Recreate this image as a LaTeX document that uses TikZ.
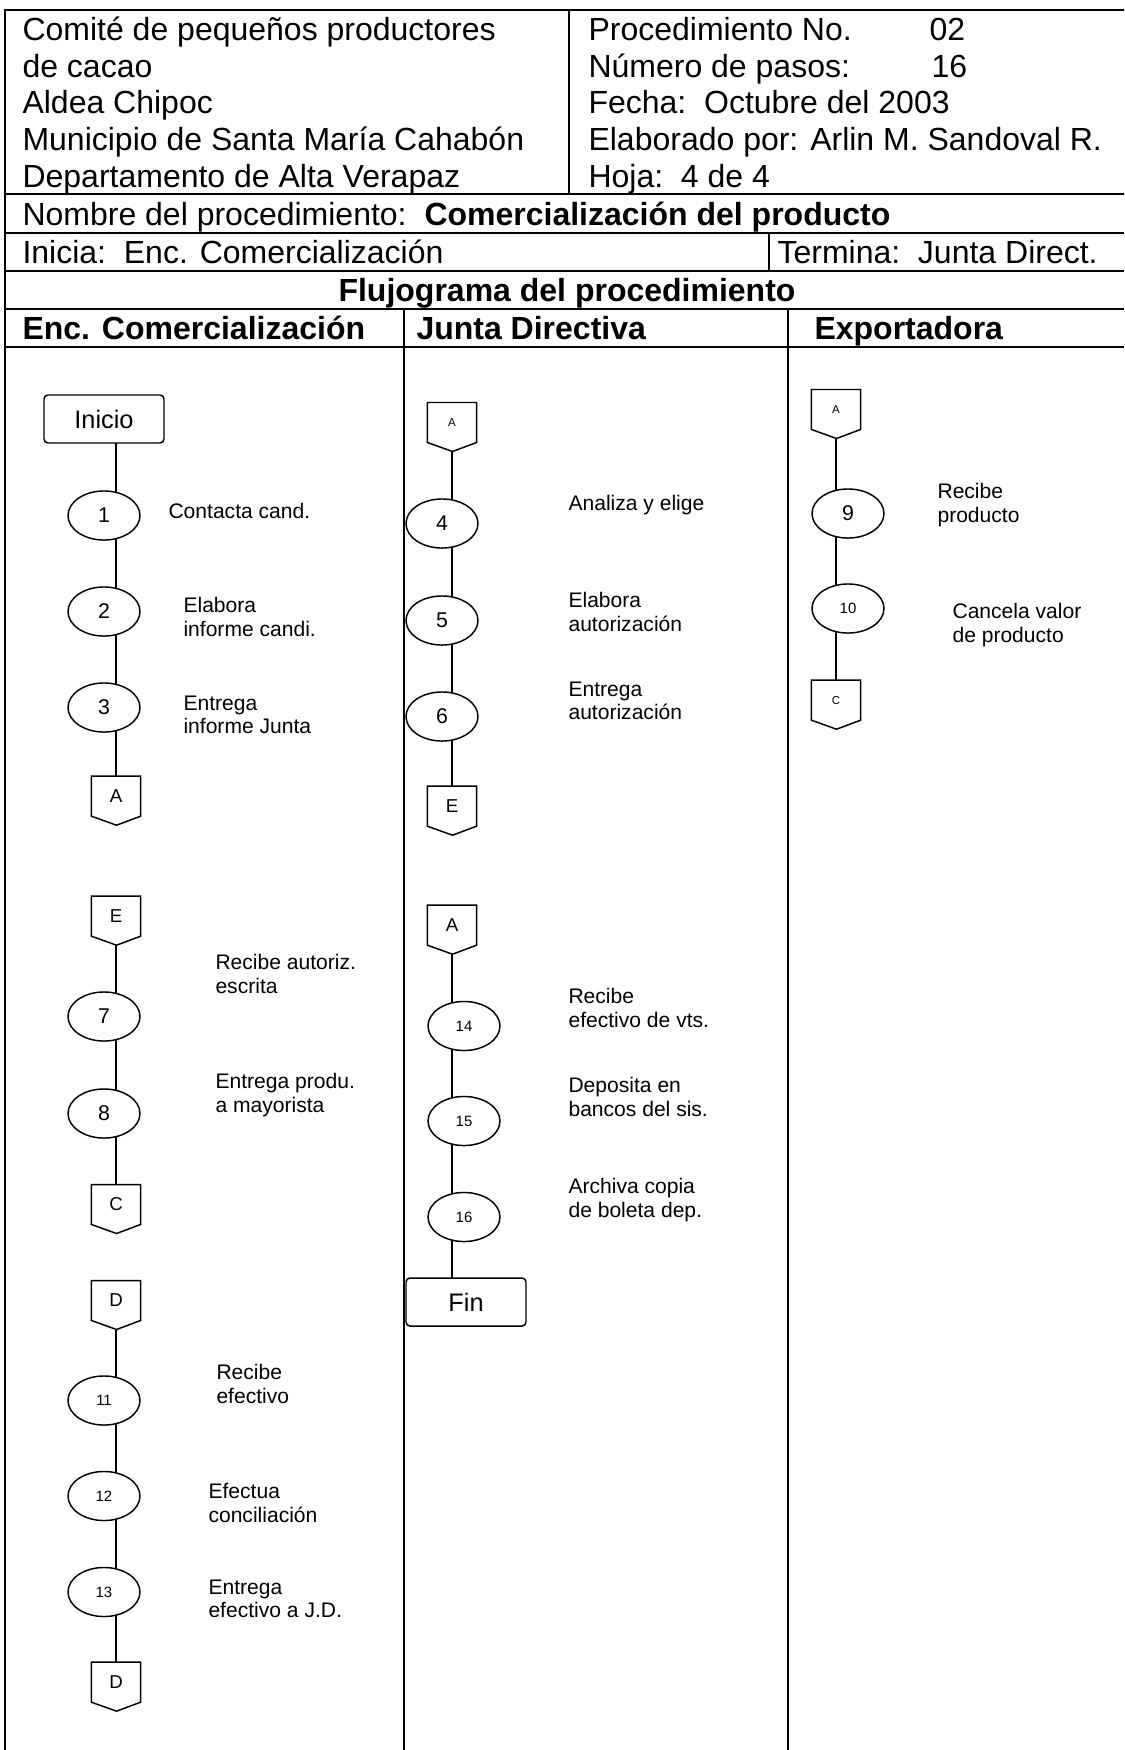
\documentclass[tikz,border=0pt]{standalone}
\usepackage{fontspec}
\setmainfont{Liberation Sans}
\usetikzlibrary{shapes.geometric,backgrounds}

\tikzset{
	tabla/.style = {line width=0.75pt},
	trazo/.style = {line width=0.55pt},
	terminal/.style = {rectangle, rounded corners=1.5pt, draw, trazo, fill=white, minimum width=45pt, minimum height=18pt, inner sep=0pt, font=\fontsize{9.5}{11}\selectfont},
	paso/.style = {ellipse, draw, trazo, fill=white, minimum width=27pt, minimum height=18.4pt, inner sep=0pt, font=\fontsize{8}{9}\selectfont},
	pasochico/.style = {paso, font=\fontsize{5.6}{6}\selectfont},
	conector/.style = {rectangle, minimum width=18pt, minimum height=14.6pt, inner sep=0pt},
	letra/.style = {inner sep=0pt, font=\fontsize{7}{8}\selectfont},
	letrachica/.style = {inner sep=0pt, font=\fontsize{4.3}{5}\selectfont},
	hdr/.style = {anchor=base west, inner sep=0pt, font=\fontsize{12}{13.7}\selectfont},
	hdrb/.style = {hdr, font=\fontsize{12}{13.7}\selectfont\bfseries},
	nota/.style = {anchor=west, align=left, inner sep=0pt, font=\fontsize{7.9}{8.7}\selectfont}
}

\newcommand{\offpage}[4][letra]{%
	\node[conector] (#2) at #3 {};
	\draw[trazo, fill=white] (#2.north west) -- (#2.north east) -- (#2.south east) -- ++(-24,9) -- (#2.south west) -- cycle;
	\node[#1] (#2L) at (#2) {#4};
}

\begin{document}
\begin{tikzpicture}[x=0.375pt, y=-0.375pt]
	\useasboundingbox (0,0) rectangle (1124,1750);

	\draw[tabla] (5,1750) -- (5,10) -- (1124,10);
	\draw[tabla] (5,194) -- (1124,194);
	\draw[tabla] (5,233) -- (1124,233);
	\draw[tabla] (5,271) -- (1124,271);
	\draw[tabla] (5,309) -- (1124,309);
	\draw[tabla] (5,347) -- (1124,347);
	\draw[tabla] (569,10) -- (569,194);
	\draw[tabla] (769,233) -- (769,271);
	\draw[tabla] (404,309) -- (404,1750);
	\draw[tabla] (788,309) -- (788,1750);

	\node[hdr] (Org1) at (22,40.6) {Comité de pequeños productores};
	\node[hdr] (Org2) at (22,77.2) {de cacao};
	\node[hdr] (Org3) at (22,113.8) {Aldea Chipoc};
	\node[hdr] (Org4) at (22,150.4) {Municipio de Santa María Cahabón};
	\node[hdr] (Org5) at (22,187) {Departamento de Alta Verapaz};
	\node[hdr] (Dato1) at (588,40.6) {Procedimiento No.};
	\node[hdr] (Dato2) at (588,77.2) {Número de pasos:};
	\node[hdr] (Dato3) at (588,113.8) {Fecha:\ \ Octubre del 2003};
	\node[hdr] (Dato4) at (588,150.4) {Elaborado por: Arlin M. Sandoval R.};
	\node[hdr] (Dato5) at (588,187) {Hoja:\ \ 4 de 4};
	\node[hdr] (NumProc) at (929,40.6) {02};
	\node[hdr] (NumPasos) at (931,77.2) {16};
	\node[hdr] (Nombre) at (22,225) {Nombre del procedimiento:\ \ \textbf{Comercialización del producto}};
	\node[hdr] (Inicia) at (22,263) {Inicia:\ \ Enc. Comercialización};
	\node[hdr] (Termina) at (777,263) {Termina:\ \ Junta Direct.};
	\node[hdrb, anchor=base] (Flujo) at (567,301) {Flujograma del procedimiento};
	\node[hdrb] (Carril1) at (22,339) {Enc. Comercialización};
	\node[hdrb] (Carril2) at (416,339) {Junta Directiva};
	\node[hdrb] (Carril3) at (814,339) {Exportadora};

	\node[terminal] (Inicio) at (104,419) {Inicio};
	\node[paso] (P1) at (104,515.5) {1};
	\node[paso] (P2) at (104,611.5) {2};
	\node[paso] (P3) at (104,707.5) {3};
	\offpage{A1}{(116,796.2)}{A}
	\offpage{E2}{(116,916.2)}{E}
	\node[paso] (P7) at (104,1016.5) {7};
	\node[paso] (P8) at (104,1113.5) {8};
	\offpage{C1}{(116,1204.5)}{C}
	\offpage{D1}{(116,1300.5)}{D}
	\node[pasochico] (P11) at (104,1400.5) {11};
	\node[pasochico] (P12) at (104,1496) {12};
	\node[pasochico] (P13) at (104,1592) {13};
	\offpage{D2}{(116,1682.2)}{D}

	\offpage[letrachica]{A2}{(452,422.5)}{A}
	\node[paso] (P4) at (442,523.5) {4};
	\node[paso] (P5) at (442,620.5) {5};
	\node[paso] (P6) at (442,716.5) {6};
	\offpage{E1}{(452,806.2)}{E}
	\offpage{A4}{(452,925.2)}{A}
	\node[pasochico] (P14) at (464,1026) {14};
	\node[pasochico] (P15) at (464,1121) {15};
	\node[pasochico] (P16) at (464,1217) {16};
	\node[terminal] (Fin) at (466,1302) {Fin};

	\offpage[letrachica]{A3}{(836,409.5)}{A}
	\node[paso] (P9) at (848,513.5) {9};
	\node[pasochico] (P10) at (848,608.5) {10};
	\offpage[letrachica]{C2}{(836,700.2)}{C}

	\node[nota] (T1) at (168,511) {Contacta cand.};
	\node[nota] (T2) at (183,617) {Elabora\\informe candi.};
	\node[nota] (T3) at (183,715) {Entrega\\informe Junta};
	\node[nota] (T7) at (215,974) {Recibe autoriz.\\escrita};
	\node[nota] (T8) at (215,1095) {Entrega produ.\\a mayorista};
	\node[nota] (T11) at (216,1384) {Recibe\\efectivo};
	\node[nota] (T12) at (208,1503) {Efectua\\conciliación};
	\node[nota] (T13) at (208,1599) {Entrega\\efectivo a J.D.};
	\node[nota] (T4) at (568,505) {Analiza y elige};
	\node[nota] (T5) at (568,612) {Elabora\\autorización};
	\node[nota] (T6) at (568,701) {Entrega\\autorización};
	\node[nota] (T14) at (568,1008) {Recibe\\efectivo de vts.};
	\node[nota] (T15) at (568,1097) {Deposita en\\bancos del sis.};
	\node[nota] (T16) at (568,1200) {Archiva copia\\de boleta dep.};
	\node[nota] (T9) at (937,505) {Recibe\\producto};
	\node[nota] (T10) at (952,625) {Cancela valor\\de producto};

	\begin{scope}[on background layer]
		\draw[trazo] (Inicio -| A1) -- (P1 -| A1) -- (P2 -| A1) -- (P3 -| A1) -- (A1);
		\draw[trazo] (E2) -- (P7 -| E2) -- (P8 -| E2) -- (C1);
		\draw[trazo] (D1) -- (P11 -| D1) -- (P12 -| D1) -- (P13 -| D1) -- (D2);
		\draw[trazo] (A2) -- (P4 -| A2) -- (P5 -| A2) -- (P6 -| A2) -- (E1);
		\draw[trazo] (A4) -- (P14 -| A4) -- (P15 -| A4) -- (P16 -| A4) -- (Fin -| A4);
		\draw[trazo] (A3) -- (P9 -| A3) -- (P10 -| A3) -- (C2);
	\end{scope}
\end{tikzpicture}
\end{document}
